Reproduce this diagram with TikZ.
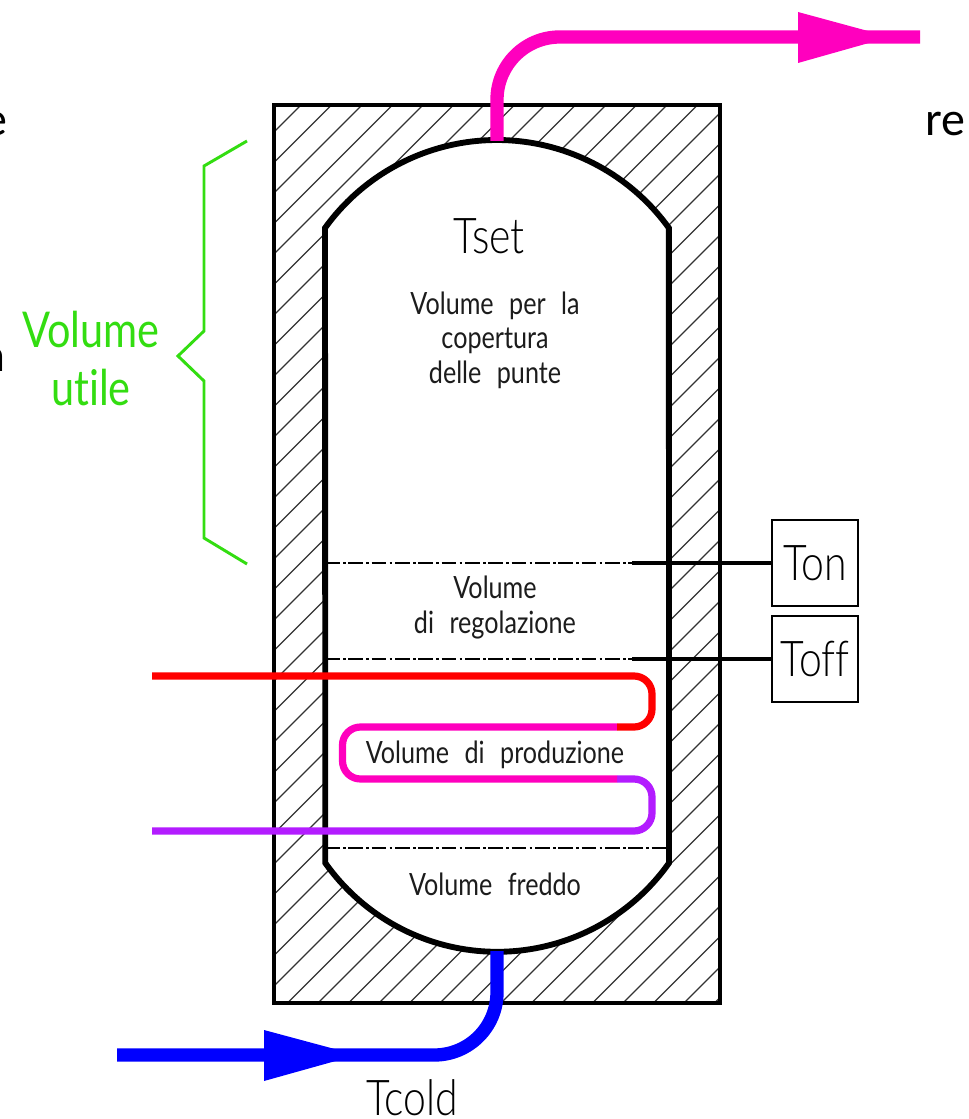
\documentclass[tikz,border=0pt]{standalone}
\usepackage{fontspec}
\setmainfont{Liberation Sans}
\newfontfamily\cadfont[FakeStretch=0.83,WordSpace=2.2,Ligatures=NoCommon]{Lato Light}
\newfontfamily\cadsmall[FakeStretch=0.82,WordSpace=2.4,Ligatures=NoCommon]{Lato}
\newfontfamily\cadgreen[FakeStretch=0.84,Ligatures=NoCommon]{Lato}
\newfontfamily\slidefont{Carlito}
\definecolor{pipemag}{HTML}{FF00BE}
\definecolor{pipeblue}{HTML}{0000FF}
\definecolor{pipered}{HTML}{FF0000}
\definecolor{pipepurple}{HTML}{B31CFF}
\definecolor{bracegreen}{HTML}{33DD11}
\definecolor{cadtext}{HTML}{1C1C1C}
\tikzset{
  x=0.75pt,y=-0.75pt,
  hatchline/.style={line width=1pt,black!80},
  shell/.style={line width=2.3pt,black},
  tankwall/.style={line width=4.4pt,black,line join=miter},
  levelline/.style={line width=0.8pt,dash pattern=on 11pt off 2.5pt on 2pt off 2pt,black},
  probeline/.style={line width=2.4pt,black},
  pipe/.style={line width=10pt,rounded corners=47pt},
  coil/.style={line width=5.4pt,rounded corners=13.5pt},
  probebox/.style={draw=black,line width=2.2pt,minimum width=64.5pt,minimum height=64.5pt,inner sep=0pt,font=\cadfont\fontsize{37}{37}\selectfont,text=black},
  small/.style={anchor=base,inner sep=0pt,text=cadtext,font=\cadsmall\fontsize{23}{23}\selectfont},
  big/.style={anchor=base,inner sep=0pt,text=black,font=\cadfont\fontsize{37}{37}\selectfont},
  greenlabel/.style={anchor=base,inner sep=0pt,text=bracegreen,font=\cadgreen\fontsize{37}{37}\selectfont},
  slide/.style={inner sep=0pt,text=black,font=\slidefont\fontsize{36}{36}\selectfont}
}
\begin{document}
\begin{tikzpicture}
\useasboundingbox (0,0) rectangle (969,1119);
\fill[white] (0,0) rectangle (969,1119);
% cropped slide text
\node[slide,anchor=base east] (fragE) at (8,136) {e};
\node[slide,anchor=base west] (fragRe) at (925,136) {re};
\node[slide,anchor=base east] (fragA) at (6,372) {a};
% hatching of insulation
\begin{scope}[even odd rule]
\clip (274,105) rectangle (720,1003)
  (325,228) arc[start angle=215.8,end angle=324.2,radius=212] -- (669,863)
  arc[start angle=35.35,end angle=144.65,radius=210.7] -- cycle;
\foreach \k in {-1,...,44}{
  \pgfmathsetmacro{\s}{406+30.5*\k}
  \draw[hatchline] (274,\s-274) -- (\s-105,105);
}
\end{scope}
\draw[shell] (274,105) rectangle (720,1003);
% level lines
\coordinate (l1a) at (325,563); \coordinate (p1) at (632,563);
\coordinate (l2a) at (325,659); \coordinate (p2) at (632,659);
\coordinate (l3a) at (325,848); \coordinate (l3b) at (669,848);
\draw[levelline] (l1a) -- (p1);
\draw[levelline] (l2a) -- (p2);
\draw[levelline] (l3a) -- (l3b);
% tank
\draw[tankwall] (325,228) arc[start angle=215.8,end angle=324.2,radius=212] -- (669,863)
  arc[start angle=35.35,end angle=144.65,radius=210.7] -- cycle;
% probes
\node[probebox] (ton) at (815,563) {Ton};
\node[probebox] (toff) at (815,659) {Toff};
\draw[probeline] (p1) -- (ton.west);
\draw[probeline] (p2) -- (toff.west);
% coil
\draw[coil,pipepurple] (617,779) -- (652,779) -- (652,831) -- (152,831);
\draw[coil,pipemag] (617,727) -- (342.5,727) -- (342.5,779) -- (617,779);
\draw[coil,pipered] (152,676) -- (652,676) -- (652,727) -- (617,727);
% hot outlet
\draw[pipe,pipemag] (497,141) -- (497,37) -- (920,37);
\fill[pipemag] (798,12) -- (890,37) -- (798,63) -- cycle;
% cold inlet
\draw[pipe,pipeblue] (497,951) -- (497,1055) -- (117,1055);
\fill[pipeblue] (264,1030) -- (357,1055) -- (264,1081) -- cycle;
% brace
\draw[bracegreen,line width=2.2pt,line join=miter] (247,141) -- (204,166) -- (204,331) -- (178,356) -- (204,381) -- (204,538) -- (247,564);
% labels
\node[greenlabel] (volA) at (91,348) {Volume};
\node[greenlabel] (volB) at (91,405) {utile};
\node[big] (tset) at (489,254) {Tset};
\node[big] (tcold) at (412,1115) {Tcold};
\node[small] (t1) at (495,315) {Volume per la};
\node[small] (t2) at (495,349) {copertura};
\node[small] (t3) at (495,383) {delle punte};
\node[small] (t4) at (495,598) {Volume};
\node[small] (t5) at (495,633) {di regolazione};
\node[small] (t6) at (495,763) {Volume di produzione};
\node[small] (t7) at (495,895) {Volume freddo};
\end{tikzpicture}
\end{document}
